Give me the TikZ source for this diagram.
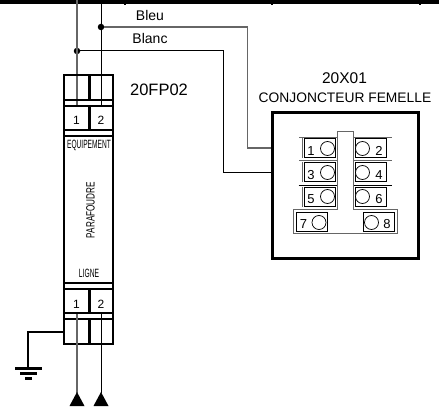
\documentclass[tikz,border=0pt]{standalone}
\usepackage{fontspec}
\setmainfont{Liberation Sans}
\definecolor{wiregray}{gray}{0.4}
\newcommand{\fs}[1]{\fontsize{#1pt}{#1pt}\selectfont}
\tikzset{
  thick line/.style={line width=2.2pt,black},
  wire/.style={line width=1pt,black},
  graywire/.style={line width=1.1pt,wiregray},
  dot/.style={circle,fill=black,inner sep=0pt,minimum size=6.5pt},
  txt/.style={inner sep=0pt,text=black},
  term/.style={draw=black,line width=.8pt,inner sep=0pt,minimum width=31pt,minimum height=19pt,fill=white},
  pin/.style={circle,draw=black,line width=.7pt,inner sep=0pt,minimum size=14pt,fill=white},
  shelf/.style={line width=1pt,wiregray},
}
\begin{document}
\begin{tikzpicture}[x=1pt,y=-1pt]
\useasboundingbox (0,0) rectangle (439,414);
% top bus
\fill (0,0) rectangle (439,3.8);
\foreach \x in {125,272,420} \fill (\x-1,3) rectangle (\x+1,4.6);
% coordinates of the wires
\coordinate (topa) at (77,0);
\coordinate (topb) at (101,0);
\coordinate (enda) at (77,105);
\coordinate (endb) at (101,105);
\coordinate (lowa) at (77,314);
\coordinate (lowb) at (101,314);
\coordinate (arra) at (77,393);
\coordinate (arrb) at (101,393);
\coordinate (earth) at (28,368.5);
\coordinate (modg) at (64,332);
% connector body
\node[draw=black,line width=2.2pt,minimum width=146pt,minimum height=146pt,inner sep=0pt] (conj) at (345.5,185.5) {};
% dots
\node[dot] (da) at (77,51) {};
\node[dot] (db) at (101,27) {};
% wires
\draw[graywire] (topa) -- (enda);
\draw[wire] (topb) -- (endb);
\draw[graywire] (db) -- (247.5,27) |- (conj.west |- 0,148);
\draw[wire] (da) -- (223.5,51) |- (conj.west |- 0,173);
% module
\draw[thick line] (64,75) rectangle (113,344);
\foreach \y in {100,106,130,136,283,289,313,319} \draw[thick line] (64,\y) -- (113,\y);
\draw[thick line] (89.5,75) -- (89.5,100) (89.5,106) -- (89.5,130);
\draw[thick line] (89.5,289) -- (89.5,313) (89.5,319) -- (89.5,344);
\node[txt] (m1) at (76.5,120) {\fs{12}1};
\node[txt] (m2) at (101,120) {\fs{12}2};
\node[txt] (m3) at (76.5,304) {\fs{12}1};
\node[txt] (m4) at (101,304) {\fs{12}2};
\node[txt] (equip) at (89,145) {\fs{12}\scalebox{.55}[1]{EQUIPEMENT}};
\node[txt] (para) at (90.5,210) {\rotatebox{90}{\fs{12}\scalebox{.68}[1]{PARAFOUDRE}}};
\node[txt] (ligne) at (89,273) {\fs{12}\scalebox{.56}[1]{LIGNE}};
% lower wires and arrows
\draw[graywire] (lowa) -- (arra);
\draw[wire] (lowb) -- (arrb);
\fill (77,392) -- (84.5,406) -- (69.5,406) -- cycle;
\fill (101,392) -- (108.5,406) -- (93.5,406) -- cycle;
% earth
\draw[thick line] (modg) -| (earth);
\draw[thick line] (15,368.5) -- (41.5,368.5);
\draw[thick line] (20,373.5) -- (36.5,373.5);
\draw[thick line] (25,378.5) -- (32,378.5);
% labels
\node[txt] (bleu) at (150,15) {\fs{14}Bleu};
\node[txt] (blanc) at (150,38.5) {\fs{14}Blanc};
\node[txt] (fp) at (159,89.5) {\fs{16.5}20FP02};
\node[txt] (x01) at (344.5,78) {\fs{15.5}20X01};
\node[txt] (cf) at (345,97.5) {\fs{13.8}CONJONCTEUR FEMELLE};
% connector interior
\draw[shelf] (299,137.5) -- (337.5,137.5) (353,137.5) -- (392,137.5);
\draw[shelf] (299,161) -- (337.5,161) (353,161) -- (392,161);
\draw[wire] (298.5,185.5) -- (337.5,185.5) (353,185.5) -- (392,185.5);
\draw[shelf] (337.5,209) -- (337.5,132) -- (353,132) -- (353,209);
\draw[shelf] (337.5,209.5) -- (293.5,209.5) -- (293.5,233.5) -- (397,233.5) -- (397,209.5) -- (353,209.5);
\foreach \n/\x/\y in {a/304/139,b/304/163,c/304/188,d/355/139,e/355/163,f/355/188}{
  \node[term,anchor=north west] (t\n) at (\x,\y-.5) {};
  \draw[line width=1pt,wiregray] (\x-1.5,\y-1) -- (\x-1.5,\y+19.5);
}
\foreach \n/\cx/\cy/\lx/\ly/\t in {1/327.5/148.5/311/151/1,2/362.5/148.5/379/151/2,3/327.5/172.5/311/175/3,4/362.5/172.5/379/175/4,5/327.5/196.5/311/199/5,6/362.5/196.5/379/199/6}{
  \node[pin] (p\n) at (\cx,\cy) {};
  \node[txt] (l\n) at (\lx,\ly) {\fs{13}\t};
}
\node[term,anchor=north west] (t7) at (296,212.5) {};
\node[term,anchor=north west] (t8) at (362.5,212.5) {};
\node[pin] (p7) at (319,222.5) {};
\node[pin] (p8) at (371.5,222.5) {};
\node[txt] (l7) at (303.5,224.5) {\fs{13}7};
\node[txt] (l8) at (387,224.5) {\fs{13}8};
\end{tikzpicture}
\end{document}
